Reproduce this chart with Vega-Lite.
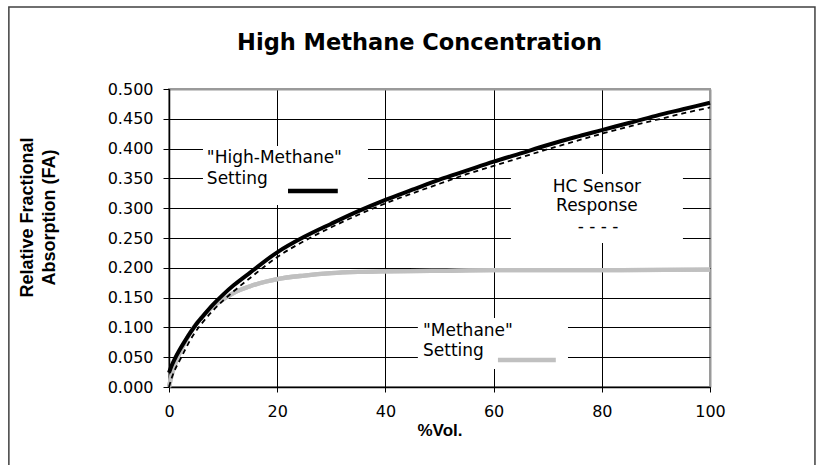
{
  "$schema": "https://vega.github.io/schema/vega-lite/v6.json",
  "width": 541,
  "height": 298,
  "autosize": {"type": "none"},
  "padding": {"left": 169, "top": 89, "right": 114, "bottom": 78},
  "background": "white",
  "config": {"view": {"stroke": "#9a9a9a", "strokeWidth": 2}},
  "title": {
    "text": "High Methane Concentration",
    "font": "DejaVu Sans",
    "fontSize": 22.5,
    "fontWeight": "bold",
    "color": "#000",
    "anchor": "middle",
    "dx": -20,
    "offset": -66,
    "baseline": "alphabetic"
  },
  "datasets": {
    "curves": [
      {"x": 0, "fa": 0.0, "series": "methane"},
      {"x": 0.5, "fa": 0.02, "series": "methane"},
      {"x": 1, "fa": 0.035, "series": "methane"},
      {"x": 2, "fa": 0.058, "series": "methane"},
      {"x": 3, "fa": 0.076, "series": "methane"},
      {"x": 4, "fa": 0.092, "series": "methane"},
      {"x": 5, "fa": 0.105, "series": "methane"},
      {"x": 6, "fa": 0.116, "series": "methane"},
      {"x": 7, "fa": 0.126, "series": "methane"},
      {"x": 8, "fa": 0.134, "series": "methane"},
      {"x": 9, "fa": 0.141, "series": "methane"},
      {"x": 10, "fa": 0.147, "series": "methane"},
      {"x": 12, "fa": 0.158, "series": "methane"},
      {"x": 15, "fa": 0.169, "series": "methane"},
      {"x": 18, "fa": 0.177, "series": "methane"},
      {"x": 20, "fa": 0.181, "series": "methane"},
      {"x": 25, "fa": 0.187, "series": "methane"},
      {"x": 30, "fa": 0.191, "series": "methane"},
      {"x": 35, "fa": 0.193, "series": "methane"},
      {"x": 40, "fa": 0.194, "series": "methane"},
      {"x": 50, "fa": 0.195, "series": "methane"},
      {"x": 60, "fa": 0.196, "series": "methane"},
      {"x": 80, "fa": 0.196, "series": "methane"},
      {"x": 100, "fa": 0.197, "series": "methane"},
      {"x": 0, "fa": 0.024, "series": "high"},
      {"x": 0.5, "fa": 0.036, "series": "high"},
      {"x": 1, "fa": 0.046, "series": "high"},
      {"x": 2, "fa": 0.063, "series": "high"},
      {"x": 3, "fa": 0.078, "series": "high"},
      {"x": 4, "fa": 0.092, "series": "high"},
      {"x": 5, "fa": 0.105, "series": "high"},
      {"x": 6, "fa": 0.116, "series": "high"},
      {"x": 8, "fa": 0.137, "series": "high"},
      {"x": 10, "fa": 0.155, "series": "high"},
      {"x": 12, "fa": 0.171, "series": "high"},
      {"x": 15, "fa": 0.192, "series": "high"},
      {"x": 20, "fa": 0.226, "series": "high"},
      {"x": 25, "fa": 0.252, "series": "high"},
      {"x": 30, "fa": 0.274, "series": "high"},
      {"x": 35, "fa": 0.295, "series": "high"},
      {"x": 40, "fa": 0.314, "series": "high"},
      {"x": 45, "fa": 0.331, "series": "high"},
      {"x": 50, "fa": 0.348, "series": "high"},
      {"x": 55, "fa": 0.363, "series": "high"},
      {"x": 60, "fa": 0.378, "series": "high"},
      {"x": 65, "fa": 0.392, "series": "high"},
      {"x": 70, "fa": 0.406, "series": "high"},
      {"x": 75, "fa": 0.419, "series": "high"},
      {"x": 80, "fa": 0.431, "series": "high"},
      {"x": 85, "fa": 0.443, "series": "high"},
      {"x": 90, "fa": 0.455, "series": "high"},
      {"x": 95, "fa": 0.466, "series": "high"},
      {"x": 100, "fa": 0.477, "series": "high"},
      {"x": 0, "fa": 0.0, "series": "sensor"},
      {"x": 0.5, "fa": 0.015, "series": "sensor"},
      {"x": 1, "fa": 0.027, "series": "sensor"},
      {"x": 2, "fa": 0.045, "series": "sensor"},
      {"x": 3, "fa": 0.063, "series": "sensor"},
      {"x": 4, "fa": 0.08, "series": "sensor"},
      {"x": 5, "fa": 0.094, "series": "sensor"},
      {"x": 6, "fa": 0.106, "series": "sensor"},
      {"x": 8, "fa": 0.127, "series": "sensor"},
      {"x": 10, "fa": 0.145, "series": "sensor"},
      {"x": 12, "fa": 0.161, "series": "sensor"},
      {"x": 15, "fa": 0.183, "series": "sensor"},
      {"x": 20, "fa": 0.218, "series": "sensor"},
      {"x": 25, "fa": 0.245, "series": "sensor"},
      {"x": 30, "fa": 0.268, "series": "sensor"},
      {"x": 35, "fa": 0.289, "series": "sensor"},
      {"x": 40, "fa": 0.308, "series": "sensor"},
      {"x": 45, "fa": 0.325, "series": "sensor"},
      {"x": 50, "fa": 0.341, "series": "sensor"},
      {"x": 55, "fa": 0.357, "series": "sensor"},
      {"x": 60, "fa": 0.371, "series": "sensor"},
      {"x": 65, "fa": 0.385, "series": "sensor"},
      {"x": 70, "fa": 0.399, "series": "sensor"},
      {"x": 75, "fa": 0.412, "series": "sensor"},
      {"x": 80, "fa": 0.425, "series": "sensor"},
      {"x": 85, "fa": 0.437, "series": "sensor"},
      {"x": 90, "fa": 0.448, "series": "sensor"},
      {"x": 95, "fa": 0.459, "series": "sensor"},
      {"x": 100, "fa": 0.469, "series": "sensor"}
    ],
    "notes": [
      {"text": "\"High-Methane\"", "x": 7.0, "fa": 0.384, "side": "left"},
      {"text": "Setting", "x": 7.0, "fa": 0.349, "side": "left"},
      {"text": "\"Methane\"", "x": 46.95, "fa": 0.094, "side": "left"},
      {"text": "Setting", "x": 46.95, "fa": 0.0604, "side": "left"},
      {"text": "HC Sensor", "x": 79.1, "fa": 0.3356, "side": "center"},
      {"text": "Response", "x": 79.1, "fa": 0.3037, "side": "center"},
      {"text": "- - - -", "x": 79.3, "fa": 0.2685, "side": "center"}
    ]
  },
  "layer": [
    {
      "data": {"values": [{}]},
      "mark": {"type": "rect", "filled": false, "stroke": "#404040", "strokeWidth": 1.5, "clip": false},
      "encoding": {
        "x": {"datum": -29.6, "type": "quantitative", "scale": {"domain": [0, 100], "nice": false, "zero": false}},
        "x2": {"datum": 119.4},
        "y": {"datum": 0.6376, "type": "quantitative", "scale": {"domain": [0, 0.5], "nice": false, "zero": false}},
        "y2": {"datum": -0.25}
      }
    },
    {
      "data": {"name": "curves"},
      "transform": [{"filter": "datum.series === 'methane'"}],
      "mark": {"type": "line", "color": "#c0c0c0", "strokeWidth": 4.3, "interpolate": "monotone"},
      "encoding": {
        "x": {
          "field": "x", "type": "quantitative",
          "scale": {"domain": [0, 100], "nice": false, "zero": false},
          "axis": {
            "values": [0, 20, 40, 60, 80, 100],
            "tickCount": 20,
            "title": "%Vol.",
            "titleFont": "Liberation Sans", "titleFontSize": 17, "titleFontWeight": "bold", "titleColor": "#000",
            "titlePadding": 3,
            "labelFont": "DejaVu Sans", "labelFontSize": 16, "labelColor": "#000", "labelPadding": 11, "labelFlush": false, "labelOverlap": false,
            "tickSize": 5, "tickColor": "#000", "tickWidth": 1,
            "domainColor": "#000", "domainWidth": 1.5,
            "grid": true,
            "gridColor": {"condition": {"test": "datum.value >= 100", "value": "#9a9a9a"}, "value": "#000"},
            "gridWidth": {"condition": {"test": "datum.value >= 100", "value": 2}, "value": 1},
            "gridOpacity": 1
          }
        },
        "y": {
          "field": "fa", "type": "quantitative",
          "scale": {"domain": [0, 0.5], "nice": false, "zero": false},
          "axis": {
            "values": [0, 0.05, 0.1, 0.15, 0.2, 0.25, 0.3, 0.35, 0.4, 0.45, 0.5],
            "tickCount": 20,
            "format": ".3f",
            "title": ["Relative Fractional", "Absorption (FA)"],
            "titleFont": "Liberation Sans", "titleFontSize": 18, "titleFontWeight": "bold", "titleColor": "#000",
            "titleLineHeight": 22, "titlePadding": 49, "titleY": 128,
            "labelFont": "DejaVu Sans", "labelFontSize": 16, "labelColor": "#000", "labelPadding": 10, "labelFlush": false, "labelOverlap": false,
            "tickSize": 6, "tickColor": "#000", "tickWidth": 1,
            "domainColor": "#000", "domainWidth": 1.5,
            "grid": true,
            "gridColor": {"condition": {"test": "datum.value >= 0.5", "value": "#9a9a9a"}, "value": "#000"},
            "gridWidth": {"condition": {"test": "datum.value >= 0.5", "value": 2}, "value": 1},
            "gridOpacity": 1
          }
        }
      }
    },
    {
      "data": {"values": [{}]},
      "mark": {"type": "rect", "fill": "white", "stroke": null},
      "encoding": {
        "x": {"datum": 6.28, "type": "quantitative", "scale": {"domain": [0, 100], "nice": false, "zero": false}},
        "x2": {"datum": 36.78},
        "y": {"datum": 0.4044, "type": "quantitative", "scale": {"domain": [0, 0.5], "nice": false, "zero": false}},
        "y2": {"datum": 0.3054}
      }
    },
    {
      "data": {"values": [{}]},
      "mark": {"type": "rect", "fill": "white", "stroke": null},
      "encoding": {
        "x": {"datum": 63.2, "type": "quantitative", "scale": {"domain": [0, 100], "nice": false, "zero": false}},
        "x2": {"datum": 95.0},
        "y": {"datum": 0.3574, "type": "quantitative", "scale": {"domain": [0, 0.5], "nice": false, "zero": false}},
        "y2": {"datum": 0.2416}
      }
    },
    {
      "data": {"values": [{}]},
      "mark": {"type": "rect", "fill": "white", "stroke": null},
      "encoding": {
        "x": {"datum": 46.0, "type": "quantitative", "scale": {"domain": [0, 100], "nice": false, "zero": false}},
        "x2": {"datum": 73.75},
        "y": {"datum": 0.1158, "type": "quantitative", "scale": {"domain": [0, 0.5], "nice": false, "zero": false}},
        "y2": {"datum": 0.03}
      }
    },
    {
      "data": {"name": "curves"},
      "transform": [{"filter": "datum.series === 'methane'"}],
      "mark": {"type": "line", "color": "#c0c0c0", "strokeWidth": 4.3, "interpolate": "monotone"},
      "encoding": {
        "x": {"field": "x", "type": "quantitative", "scale": {"domain": [0, 100], "nice": false, "zero": false}},
        "y": {"field": "fa", "type": "quantitative", "scale": {"domain": [0, 0.5], "nice": false, "zero": false}}
      }
    },
    {
      "data": {"name": "curves"},
      "transform": [{"filter": "datum.series === 'high'"}],
      "mark": {"type": "line", "color": "#000", "strokeWidth": 4, "interpolate": "monotone"},
      "encoding": {
        "x": {"field": "x", "type": "quantitative", "scale": {"domain": [0, 100], "nice": false, "zero": false}},
        "y": {"field": "fa", "type": "quantitative", "scale": {"domain": [0, 0.5], "nice": false, "zero": false}}
      }
    },
    {
      "data": {"name": "curves"},
      "transform": [{"filter": "datum.series === 'sensor'"}],
      "mark": {"type": "line", "color": "#000", "strokeWidth": 1.8, "strokeDash": [5, 4], "interpolate": "monotone"},
      "encoding": {
        "x": {"field": "x", "type": "quantitative", "scale": {"domain": [0, 100], "nice": false, "zero": false}},
        "y": {"field": "fa", "type": "quantitative", "scale": {"domain": [0, 0.5], "nice": false, "zero": false}}
      }
    },
    {
      "data": {"values": [{}]},
      "mark": {"type": "rule", "color": "#000", "strokeWidth": 4.3},
      "encoding": {
        "x": {"datum": 22.0, "type": "quantitative", "scale": {"domain": [0, 100], "nice": false, "zero": false}},
        "x2": {"datum": 31.2},
        "y": {"datum": 0.3289, "type": "quantitative", "scale": {"domain": [0, 0.5], "nice": false, "zero": false}}
      }
    },
    {
      "data": {"values": [{}]},
      "mark": {"type": "rule", "color": "#c0c0c0", "strokeWidth": 4.3},
      "encoding": {
        "x": {"datum": 60.8, "type": "quantitative", "scale": {"domain": [0, 100], "nice": false, "zero": false}},
        "x2": {"datum": 71.5},
        "y": {"datum": 0.0453, "type": "quantitative", "scale": {"domain": [0, 0.5], "nice": false, "zero": false}}
      }
    },
    {
      "data": {"name": "notes"},
      "transform": [{"filter": "datum.side === 'left'"}],
      "mark": {"type": "text", "align": "left", "baseline": "middle", "font": "DejaVu Sans", "fontSize": 17, "color": "#000"},
      "encoding": {
        "x": {"field": "x", "type": "quantitative", "scale": {"domain": [0, 100], "nice": false, "zero": false}},
        "y": {"field": "fa", "type": "quantitative", "scale": {"domain": [0, 0.5], "nice": false, "zero": false}},
        "text": {"field": "text"}
      }
    },
    {
      "data": {"name": "notes"},
      "transform": [{"filter": "datum.side === 'center'"}],
      "mark": {"type": "text", "align": "center", "baseline": "middle", "font": "DejaVu Sans", "fontSize": 17, "color": "#000"},
      "encoding": {
        "x": {"field": "x", "type": "quantitative", "scale": {"domain": [0, 100], "nice": false, "zero": false}},
        "y": {"field": "fa", "type": "quantitative", "scale": {"domain": [0, 0.5], "nice": false, "zero": false}},
        "text": {"field": "text"}
      }
    }
  ]
}
